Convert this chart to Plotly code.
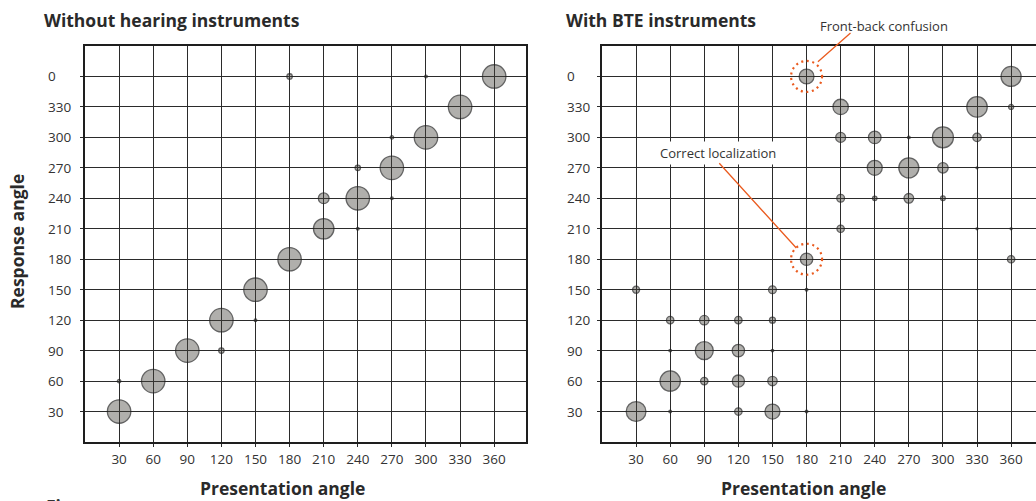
import plotly.graph_objects as go

# ---------------- data ----------------
angles = [30, 60, 90, 120, 150, 180, 210, 240, 270, 300, 330, 360]
x_tick_labels = ["30", "60", "90", "120", "150", "180", "210", "240", "270", "300", "330", "360"]
y_tick_labels = ["30", "60", "90", "120", "150", "180", "210", "240", "270", "300", "330", "0"]

# Without hearing instruments: presentation angle, response angle, share of responses (%)
wo_presentation = [30, 30, 60, 90, 120, 120, 150, 150, 180, 180, 210, 210, 240, 240, 240,
                   270, 270, 270, 300, 300, 330, 360]
wo_response = [30, 60, 60, 90, 90, 120, 120, 150, 180, 0, 210, 240, 240, 270, 210,
               270, 300, 240, 300, 0, 330, 0]
wo_share = [100, 2.1, 100, 100, 5.3, 100, 1.3, 100, 100, 5.3, 76, 21, 100, 5.3, 1.3,
            100, 2.1, 1.3, 100, 1.3, 100, 100]

# With BTE instruments
bte_presentation = [30, 30,
                    60, 60, 60, 60,
                    90, 90, 90,
                    120, 120, 120, 120,
                    150, 150, 150, 150, 150,
                    180, 180, 180, 180,
                    210, 210, 210, 210,
                    240, 240, 240,
                    270, 270, 270,
                    300, 300, 300,
                    330, 330, 330, 330,
                    360, 360, 360, 360]
bte_response = [30, 150,
                30, 60, 90, 120,
                60, 90, 120,
                30, 60, 90, 120,
                30, 60, 90, 120, 150,
                30, 150, 180, 0,
                210, 240, 300, 330,
                240, 270, 300,
                240, 270, 300,
                240, 270, 300,
                210, 270, 300, 330,
                0, 330, 210, 180]
bte_share = [71, 9,
             1.3, 75, 1.3, 10,
             10, 59, 16,
             10, 27, 28, 10,
             41, 16, 1.3, 6.6, 11,
             1.3, 1.3, 28, 40,
             10, 11, 18, 43,
             3.5, 41, 29,
             17, 73, 1.3,
             4, 20, 80,
             0.7, 0.7, 13, 76,
             73, 4.6, 0.7, 10]

# highlighted responses in the BTE panel (presentation, response)
highlights = [(180, 0), (180, 180)]

# ---------------- styling ----------------
W, H = 1036, 501
FILL = "rgba(68,66,58,0.6)"
OUTLINE = "#222222"
GRID = "#2b2b2b"
FRAME = "#1e1e1e"
ORANGE = "#ea5b1f"
TXT = "#333333"
TICKFONT = dict(family="Open Sans, sans-serif", size=13.5, color=TXT)
BOLDFONT = dict(family="Open Sans, sans-serif", size=17.5, color="#2a2a2a", weight="bold")
LABFONT = dict(family="Open Sans, sans-serif", size=13, color="#333333")
max_marker = 23.4
sizeref = 2.0 * 100 / max_marker ** 2


def plot_y(resp):
    return [r if r > 0 else 360 for r in resp]


fig = go.Figure()
for xs, ys, ss, xa, ya in [(wo_presentation, wo_response, wo_share, "x", "y"),
                           (bte_presentation, bte_response, bte_share, "x2", "y2")]:
    fig.add_trace(go.Scatter(
        x=xs, y=plot_y(ys), mode="markers", xaxis=xa, yaxis=ya,
        marker=dict(size=ss, sizemode="area", sizeref=sizeref,
                    color=FILL, line=dict(color=OUTLINE, width=1.3)),
        hoverinfo="skip", showlegend=False, cliponaxis=False))

x_common = dict(tickmode="array", tickvals=angles, ticktext=x_tick_labels,
                showgrid=True, gridcolor=GRID, gridwidth=1.4, zeroline=False,
                showline=True, linecolor=FRAME, linewidth=1.6, mirror=True,
                ticks="outside", ticklen=3, tickcolor=GRID, tickwidth=1.4,
                tickfont=TICKFONT, ticklabelstandoff=1, fixedrange=True)
y_common = dict(tickmode="array", tickvals=angles, showticklabels=False,
                showgrid=True, gridcolor=GRID, gridwidth=1.4, zeroline=False,
                showline=True, linecolor=FRAME, linewidth=1.6,
                ticks="outside", ticklen=3, tickcolor=GRID, tickwidth=1.4,
                range=[0, 390], domain=[59 / H, 455 / H], fixedrange=True)

fig.update_layout(
    width=W, height=H, margin=dict(l=0, r=0, t=0, b=0),
    paper_bgcolor="white", plot_bgcolor="white", showlegend=False,
    xaxis=dict(x_common, domain=[85 / W, 526 / W], range=[0, 388], anchor="y"),
    yaxis=dict(y_common, mirror=True, anchor="x"),
    xaxis2=dict(x_common, domain=[602 / W, 1.0], range=[0, 381.9], anchor="y2"),
    yaxis2=dict(y_common, mirror=False, anchor="x2"),
)

ann = []
# y tick labels (left aligned as in the original)
for yref, xpix in [("y", 46), ("y2", 565)]:
    for v, lab in zip(angles, y_tick_labels):
        ann.append(dict(text=lab, xref="paper", x=xpix / W, xanchor="left",
                        yref=yref, y=v, yanchor="middle", showarrow=False, font=TICKFONT))

# panel titles
ann.append(dict(text="Without hearing instruments", xref="paper", x=42 / W, xanchor="left",
                yref="paper", y=(H - 20) / H, yanchor="middle", showarrow=False, font=BOLDFONT))
ann.append(dict(text="With BTE instruments", xref="paper", x=564 / W, xanchor="left",
                yref="paper", y=(H - 20) / H, yanchor="middle", showarrow=False, font=BOLDFONT))
# axis titles
for xc in [282.5, 803]:
    ann.append(dict(text="Presentation angle", xref="paper", x=xc / W, xanchor="center",
                    yref="paper", y=(H - 488) / H, yanchor="middle", showarrow=False, font=BOLDFONT))
ann.append(dict(text="Response angle", xref="paper", x=17 / W, xanchor="center",
                yref="paper", y=(H - 242) / H, yanchor="middle", textangle=-90,
                showarrow=False, font=BOLDFONT))
# cut-off caption at the bottom
ann.append(dict(text="Figure", xref="paper", x=44 / W, xanchor="left",
                yref="paper", y=(H - 492) / H, yanchor="top", showarrow=False,
                font=dict(family="Open Sans, sans-serif", size=17.5, color="#333333", weight="bold")))

# callouts in BTE panel
ann.append(dict(text="Front-back confusion", xref="paper", yref="paper",
                x=883.5 / W, y=(H - 25.5) / H, xanchor="center", yanchor="middle",
                showarrow=False, font=LABFONT))
ann.append(dict(text="Correct localization", xref="x2", yref="y2", x=102, y=284.5,
                xanchor="center", yanchor="middle",
                showarrow=False, font=LABFONT, bgcolor="white", borderpad=2))
for (x0, y0), (x1, y1) in [((220, 404), (190, 374.5)), ((102, 276), (171, 191))]:
    ann.append(dict(text="", xref="x2", yref="y2", axref="x2", ayref="y2",
                    x=x1, y=y1, ax=x0, ay=y0, showarrow=True, arrowhead=0,
                    arrowwidth=1.3, arrowcolor=ORANGE, standoff=0, startstandoff=0))
fig.update_layout(annotations=ann)

rx, ry = 15.5 / 1.13636, 15.5 / 1.01538
shapes = []
for px, pr in highlights:
    cy = pr if pr > 0 else 360
    shapes.append(dict(type="circle", xref="x2", yref="y2",
                       x0=px - rx, x1=px + rx, y0=cy - ry, y1=cy + ry,
                       line=dict(color=ORANGE, width=2.2, dash="2px,3.6px"), layer="above"))
fig.update_layout(shapes=shapes)

fig.write_html("out.html", config={"displayModeBar": False},
               post_script="document.body.style.margin='0';document.body.style.overflow='hidden';")
